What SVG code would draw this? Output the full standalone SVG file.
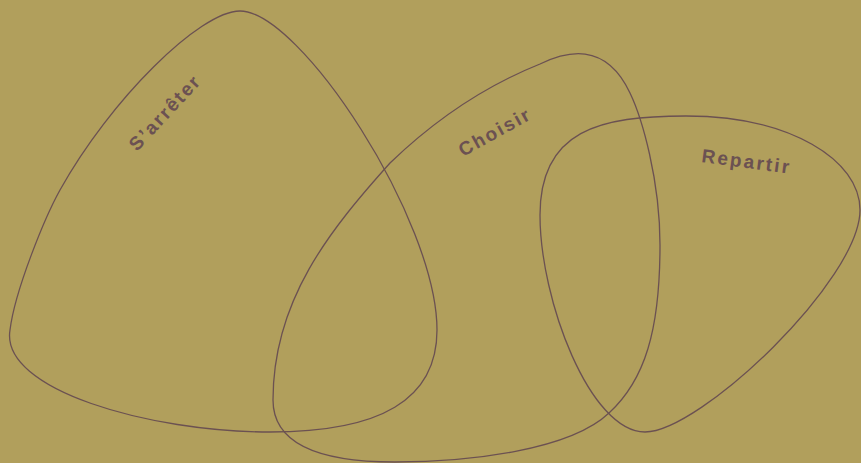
<svg xmlns="http://www.w3.org/2000/svg" width="861" height="463" viewBox="0 0 861 463">
<style>
.blob{fill:none;stroke:#6b5152;stroke-width:1.3}
.lbl{font-family:"Liberation Sans","DejaVu Sans",sans-serif;font-weight:bold;font-size:19px;fill:#6b5152}
</style>
<rect width="861" height="463" fill="#b19f5c"/>
<g id="sarreter">
<path class="blob" d="M240,11 C200,11 110,100 60,190 C45,217 15,290 10,330 C0,390 150,432 270,432 C380,432 437,400 437,330 C437,220 300,11 240,11 Z"/>
<text class="lbl" transform="translate(137,152) rotate(-47)" textLength="94" lengthAdjust="spacing">S’arrêter</text>
</g>
<g id="choisir">
<path class="blob" d="M540,64 C565,52 605,40 630,93 C642,118 660,180 660,245 C660,330 645,380 609,413 C570,450 470,462 395,462 C320,462 273,445 273,400 C273,300 330,230 390,163 C445,110 500,80 540,64 Z"/>
<text class="lbl" transform="translate(463,157) rotate(-29)" textLength="78" lengthAdjust="spacing">Choisir</text>
</g>
<g id="repartir">
<path class="blob" d="M686,116 C790,116 860,160 860,210 C860,280 700,432 645,432 C590,432 540,300 540,215 C540,130 600,116 686,116 Z"/>
<text class="lbl" transform="translate(701,162) rotate(7.5)" textLength="88" lengthAdjust="spacing">Repartir</text>
</g>
<g id="connectors"/>
</svg>
